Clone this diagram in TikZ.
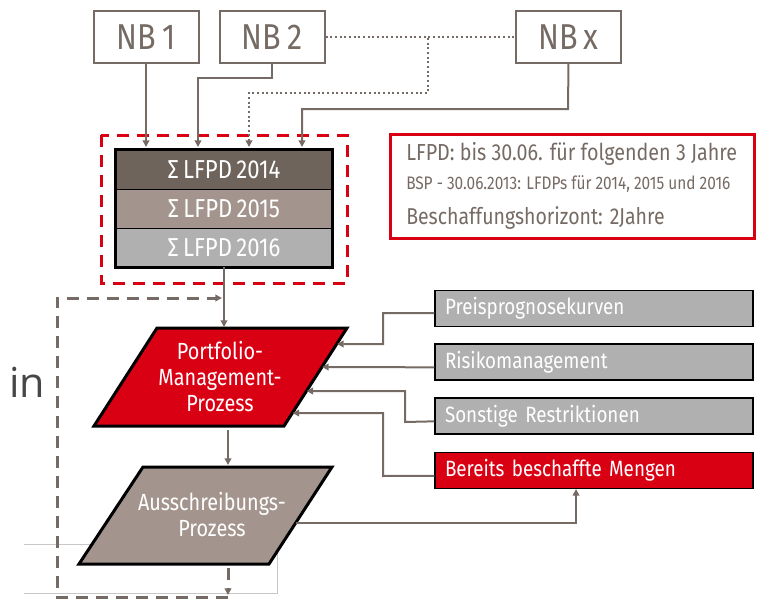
\documentclass[tikz,border=0pt]{standalone}
\usepackage{fontspec}
\setmainfont{Fira Sans}[FakeStretch=0.85]
\newfontfamily\infont{Open Sans}
\usetikzlibrary{arrows.meta}
\definecolor{tgray}{HTML}{766B64}
\definecolor{dred}{HTML}{DA0014}
\definecolor{rowa}{HTML}{6F645C}
\definecolor{rowb}{HTML}{A3958D}
\definecolor{rowc}{HTML}{B0B0B0}
\definecolor{lgray}{HTML}{C8C8C8}
\definecolor{ingray}{HTML}{474747}
\tikzset{
  nbbox/.style={draw=tgray,line width=1.5pt,minimum width=78.75pt,minimum height=38.5pt,inner sep=0pt,text=tgray,font=\fontsize{27}{30}\selectfont},
  rowbox/.style={minimum width=162pt,minimum height=29.25pt,inner sep=0pt,text=white,font=\fontsize{19.5}{22}\selectfont},
  sidebox/.style={draw=black,line width=1.1pt,text width=223.5pt,inner xsep=7.5pt,inner ysep=0pt,minimum height=27pt,align=left,text=white,font=\fontsize{16.6}{19}\selectfont},
  conn/.style={draw=tgray,line width=1.5pt,-{Triangle[length=5pt,width=5pt]}},
  plain/.style={draw=tgray,line width=1.5pt},
  dots/.style={draw=tgray,line width=1.5pt,dotted},
  loopdash/.style={draw=tgray,line width=2.25pt,dash pattern=on 9pt off 6pt},
  procbox/.style={draw=black,line width=2.25pt},
  proctext/.style={align=center,text=white,font=\fontsize{17.5}{19.5}\selectfont},
  infotext/.style={anchor=west,inner sep=0pt,text=tgray}
}
\begin{document}
\begin{tikzpicture}[x=0.75pt,y=-0.75pt]
\useasboundingbox (0,0) rectangle (758,600);
% residual thin lines
\draw[lgray,line width=0.75pt] (24,544) -- (92,544);
\draw[lgray,line width=0.75pt] (24,593) -- (277,593) -- (277,552);
% NB boxes
\node[nbbox] (nb1) at (146,37) {NB\,1};
\node[nbbox] (nb2) at (272,37) {NB\,2};
\node[nbbox] (nbx) at (568.5,37) {NB\,x};
% red dashed frame
\draw[dred,line width=2.25pt,dash pattern=on 9pt off 6pt] (101,135) rectangle (347,283);
% stack
\node[rowbox,fill=rowa] (s1) at (224,169.5) {Σ\,LFPD\,2014};
\node[rowbox,fill=rowb] (s2) at (224,208.5) {Σ\,LFPD\,2015};
\node[rowbox,fill=rowc] (s3) at (224,247.5) {Σ\,LFPD\,2016};
\draw[black,line width=1.1pt] (s1.south west) -- (s1.south east);
\draw[black,line width=1.1pt] (s2.south west) -- (s2.south east);
\draw[black,line width=2.25pt] (s1.north west) rectangle (s3.south east);
% connectors from NB
\coordinate (c1) at (146,147);
\coordinate (c2) at (198,147);
\coordinate (c3) at (249,147);
\coordinate (c4) at (302,147);
\draw[conn] (nb1.south) -- (c1);
\draw[conn] (nb2.south) -- (272,78) -- (198,78) -- (c2);
\draw[dots] (nb2.east) -- (nbx.west);
\draw[dots,-{Triangle[length=5pt,width=5pt]}] (428,38) -- (428,93) -- (249,93) -- (c3);
\draw[conn] (nbx.south) -- (568,109) -- (302,109) -- (c4);
% info box
\draw[dred,line width=2.25pt] (390,134) rectangle (754,238);
\node[infotext,font=\fontsize{17.4}{19}\selectfont] (i1) at (406,154) {LFPD: bis 30.06. für folgenden 3 Jahre};
\node[infotext,font=\fontsize{13.6}{15}\selectfont] (i2) at (406,184) {BSP - 30.06.2013: LFDPs für 2014, 2015 und 2016};
\node[infotext,font=\fontsize{17.2}{19}\selectfont] (i3) at (406,218) {Beschaffungshorizont: 2Jahre};
% Portfolio process
\draw[procbox,fill=dred] (157,328) -- (347,328) -- (284,426) -- (94,426) -- cycle;
\node[proctext] (pm) at (220,377) {Portfolio-\\Management-\\Prozess};
% Ausschreibung
\draw[procbox,fill=rowb] (143,467) -- (332,467) -- (269,564) -- (79,564) -- cycle;
\node[proctext] (as) at (212,515) {Ausschreibungs-\\Prozess};
\coordinate (pmtop) at (224,327);
\draw[conn] (s3.south) -- (pmtop);
\coordinate (pmbot) at (228,430);
\coordinate (astop) at (228,465);
\draw[conn] (pmbot) -- (astop);
% dashed loop
\coordinate (asbot) at (228,568);
\coordinate (loopend) at (228,595);
\draw[loopdash,-{Triangle[length=5pt,width=5pt]}] (asbot) -- (loopend);
\draw[loopdash,-{Triangle[length=5pt,width=5pt]}] (228,597) -- (57,597) -- (57,298) -- (222,298);
% side boxes
\node[sidebox,fill=rowc] (pr) at (594,308.5) {Preisprognosekurven};
\node[sidebox,fill=rowc] (ri) at (594,362) {Risikomanagement};
\node[sidebox,fill=rowc] (so) at (594,416) {Sonstige Restriktionen};
\node[sidebox,fill=dred] (be) at (594,470.5) {Bereits beschaffte Mengen};
\coordinate (pa) at (337,344);
\coordinate (pb) at (322,367);
\coordinate (pc) at (306.5,391);
\coordinate (pd) at (292.5,413);
\coordinate (bein) at (576,489);
\draw[conn] ([yshift=-3.5pt]pr.west) -- (383,313) -- (383,344) -- (pa);
\draw[conn] ([yshift=-4pt]ri.west) -- (pb);
\draw[conn] ([yshift=-4pt]so.west) -- (405,422) -- (405,391) -- (pc);
\draw[conn] ([yshift=-4pt]be.west) -- (383,476) -- (383,413) -- (pd);
\coordinate (asr) at (296,523);
\draw[conn] (asr) -- (576,523) -- (bein);
% in
\node[text=ingray,font=\infont\fontsize{31}{34}\selectfont,inner sep=0pt] (intext) at (27,382) {in};
\end{tikzpicture}
\end{document}
